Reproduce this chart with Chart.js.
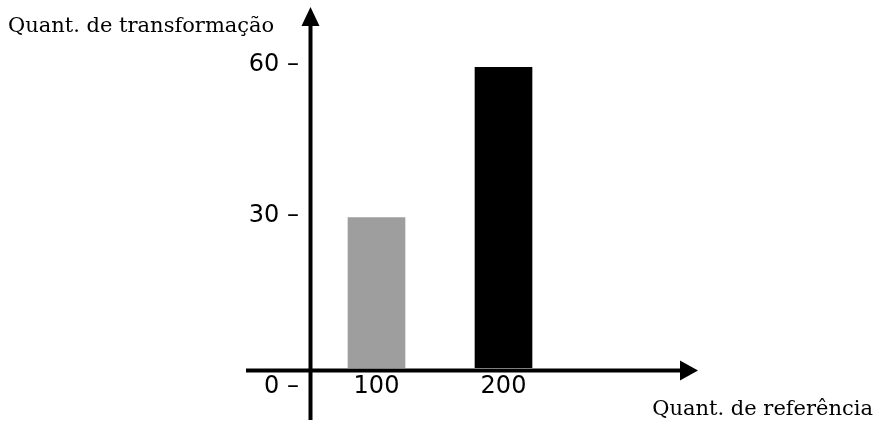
<!DOCTYPE html>
<html>
<head>
<meta charset="utf-8">
<script src="https://cdn.jsdelivr.net/npm/chart.js@4"></script>
<style>
  html, body { margin: 0; padding: 0; background: #fff; }
  #wrap { width: 883px; height: 429px; position: relative; }
</style>
</head>
<body>
<div id="wrap"><canvas id="chart_quantBars"></canvas></div>
<script>
// data
var categories = ['100', '200'];
var values = [30, 60];
var barColors = ['#9e9e9e', '#000000'];
var yTicks = [0, 30, 60];
var yTitle = 'Quant. de transformação';
var xTitle = 'Quant. de referência';

var tickFont = '24px "DejaVu Sans"';
var titleFont = '21px "DejaVu Serif"';

// axes with arrows, tick labels and titles drawn on top of the bars
var axesPlugin = {
    id: 'arrowAxes',
    afterDatasetsDraw: (chart) => {
        const ctx = chart.ctx;
        const x = chart.scales.x, y = chart.scales.y;
        const y0 = y.getPixelForValue(0) + 2.5;
        const ax = chart.chartArea.left - 2.5;
        ctx.save();
        ctx.strokeStyle = '#000';
        ctx.fillStyle = '#000';
        ctx.lineWidth = 4;
        // y axis
        ctx.beginPath();
        ctx.moveTo(ax, 420);
        ctx.lineTo(ax, 22);
        ctx.stroke();
        ctx.beginPath();
        ctx.moveTo(ax, 7);
        ctx.lineTo(ax - 9, 26);
        ctx.lineTo(ax + 9, 26);
        ctx.closePath();
        ctx.fill();
        // x axis
        ctx.beginPath();
        ctx.moveTo(246, y0);
        ctx.lineTo(684, y0);
        ctx.stroke();
        ctx.beginPath();
        ctx.moveTo(698, y0);
        ctx.lineTo(680, y0 - 10);
        ctx.lineTo(680, y0 + 10);
        ctx.closePath();
        ctx.fill();

        // tick labels
        ctx.font = tickFont;
        ctx.textBaseline = 'middle';
        ctx.textAlign = 'center';
        categories.forEach((c, i) => {
            ctx.fillText(c, x.getPixelForValue(i), y0 + 16);
        });
        ctx.textAlign = 'right';
        yTicks.forEach((v) => {
            let py = y.getPixelForValue(v) - 2;
            if (v === 0) py = y0 + 16;
            ctx.fillText(v + ' –', 299, py);
        });

        // axis titles
        ctx.font = titleFont;
        ctx.textBaseline = 'alphabetic';
        ctx.textAlign = 'left';
        ctx.fillText(yTitle, 8, 32);
        ctx.textAlign = 'right';
        ctx.fillText(xTitle, 873, 415);
        ctx.restore();
    }
};

var chart_quantBars = new Chart(document.getElementById('chart_quantBars'), {
    type: 'bar',
    data: {
        labels: categories,
        datasets: [{
            data: values,
            backgroundColor: barColors,
            borderWidth: 0,
            barThickness: 57
        }]
    },
    options: {
        animation: false,
        responsive: true,
        maintainAspectRatio: false,
        layout: {
            padding: { left: 313, right: 316, top: 67, bottom: 61 }
        },
        plugins: {
            legend: { display: false },
            tooltip: { enabled: false }
        },
        scales: {
            x: { display: false, offset: true },
            y: { display: false, min: 0, max: 60 }
        }
    },
    plugins: [axesPlugin]
});
</script>
</body>
</html>
